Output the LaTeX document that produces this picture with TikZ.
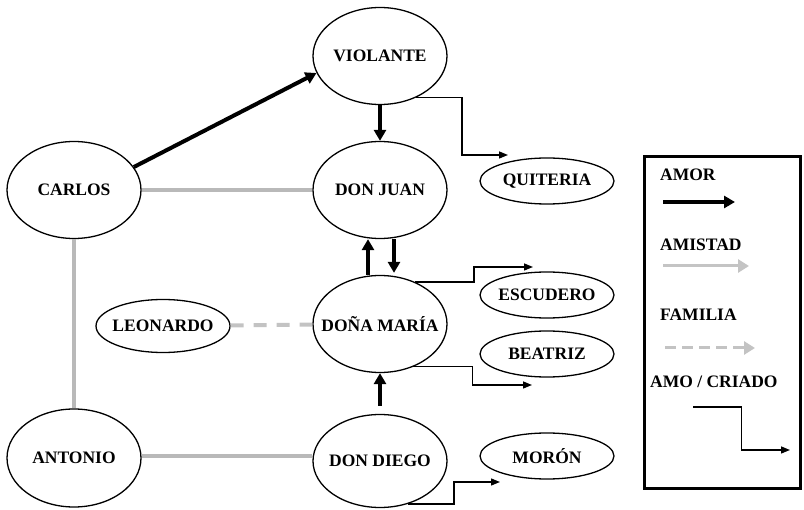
\documentclass[tikz,border=0pt]{standalone}
\usepackage{fontspec}
\setmainfont{Liberation Serif}
\usetikzlibrary{shapes.geometric,arrows.meta,calc}
\definecolor{amistad}{RGB}{185,185,185}
\definecolor{famgray}{RGB}{195,195,195}
\tikzset{
  big/.style={draw, ellipse, line width=1.3pt, minimum width=134pt, minimum height=97pt, inner sep=0pt,
    inner xsep=-30pt, font=\fontsize{17.5}{19}\selectfont\bfseries},
  small/.style={draw, ellipse, line width=1.3pt, minimum width=134pt, minimum height=46pt, inner sep=0pt,
    inner xsep=-30pt, font=\fontsize{17.5}{19}\selectfont\bfseries},
  amor/.style={line width=4pt, -{Triangle[length=11pt,width=12pt]}},
  amist/.style={line width=4pt, draw=amistad},
  fam/.style={line width=4pt, draw=famgray, dash pattern=on 13pt off 10pt},
  criado/.style={line width=1.4pt, -{Triangle[length=9pt,width=7pt]}},
  legtext/.style={anchor=west, inner sep=0pt, font=\fontsize{17.5}{19}\selectfont\bfseries}
}
\begin{document}
\begin{tikzpicture}[x=1pt,y=-1pt]
\useasboundingbox (0,0) rectangle (804,510);
% nodes
\node[big] (violante) at (380,56) {VIOLANTE};
\node[big] (donjuan) at (380,190) {DON JUAN};
\node[big] (carlos) at (74,190) {CARLOS};
\node[big] (donamaria) at (380,324) {DOÑA MARÍA};
\node[big, minimum height=93pt] (dondiego) at (380,461) {DON DIEGO};
\node[big, minimum height=98pt] (antonio) at (74,458) {ANTONIO};
\node[small, minimum height=53pt] (leonardo) at (163,326) {LEONARDO};
\node[small] (quiteria) at (547,181) {QUITERIA};
\node[small] (escudero) at (547,295) {ESCUDERO};
\node[small] (beatriz) at (547,354) {BEATRIZ};
\node[small] (moron) at (547,456) {MORÓN};
% friendship
\draw[amist] (carlos) -- (donjuan);
\draw[amist] (carlos) -- (antonio);
\draw[amist] ($(antonio.east)+(0,-2)$) -- ($(antonio.east -| dondiego.west)+(0,-2)$);
% family
\draw[fam] (leonardo) -- (donamaria);
% love
\draw[amor] (carlos.21) -- (violante.195);
\draw[amor] (violante) -- (donjuan);
\draw[amor] ($(donamaria.north)+(-12,0)$) -- ($(donjuan.south)+(-12,0)$);
\draw[amor] ($(donjuan.south)+(14,0)$) -- ($(donamaria.north)+(14,-2)$);
\draw[amor] ($(dondiego.north)+(0,-8)$) -- (donamaria);
% master / servant
\coordinate (qend) at (508,155);
\coordinate (eend) at (533,267);
\coordinate (bend) at (532,385);
\coordinate (mend) at (500,482);
\draw[criado] (violante.-49) -| ($(violante.-49)!0.5!(qend)$) |- (qend);
\draw[criado] (donamaria.50) -| ($(donamaria.50)!0.5!(eend)$) |- (eend);
\draw[criado] (donamaria.-52) -| ($(donamaria.-52)!0.5!(bend)$) |- (bend);
\draw[criado] (dondiego.-57) -| ($(dondiego.-57)!0.5!(mend)$) |- (mend);
% legend
\node[draw, line width=3pt, minimum width=156pt, minimum height=332pt, inner sep=0pt] (legend) at (722.5,322.5) {};
\node[legtext] (lamor) at (660,175) {AMOR};
\node[legtext] (lamist) at (660,245) {AMISTAD};
\node[legtext] (lfam) at (660,315) {FAMILIA};
\node[legtext] (lcri) at (650,382) {AMO / CRIADO};
\coordinate (a1) at (663,202); \coordinate (a2) at (735,202);
\coordinate (b1) at (663,266); \coordinate (b2) at (749,266);
\coordinate (c1) at (665,348); \coordinate (c2) at (755,348);
\coordinate (d1) at (693,407); \coordinate (d2) at (790,450);
\draw[amor] (a1) -- (a2);
\draw[line width=3pt, amistad!85, -{Triangle[length=11pt,width=13pt]}] (b1) -- (b2);
\draw[line width=3pt, famgray, dash pattern=on 11pt off 6pt, -{Triangle[length=11pt,width=13pt]}] (c1) -- (c2);
\draw[criado] (d1) -| ($(d1)!0.5!(d2)$) |- (d2);
\end{tikzpicture}
\end{document}
